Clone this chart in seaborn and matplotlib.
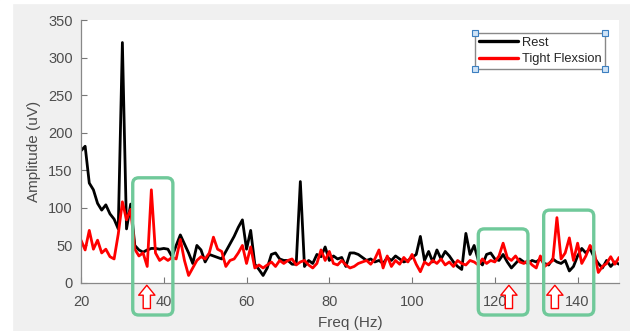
import numpy as np
import pandas as pd
import matplotlib
matplotlib.use("Agg")
import matplotlib.pyplot as plt
import seaborn as sns
from matplotlib.patches import FancyBboxPatch, Rectangle
from matplotlib.lines import Line2D

# frecvente 20..150 Hz, pas 1 Hz
freq = np.arange(20, 151)

rest = [176, 182, 133, 124, 106, 97, 104, 92, 85, 72,
        320, 72, 105, 50, 44, 41, 44, 46, 46, 45,
        46, 45, 35, 50, 64, 52, 40, 26, 50, 44,
        28, 38, 36, 34, 32, 42, 52, 62, 74, 84,
        45, 70, 25, 18, 10, 20, 38, 40, 32, 30,
        30, 25, 25, 135, 22, 30, 26, 38, 35, 48,
        30, 36, 32, 34, 22, 40, 40, 38, 34, 30,
        32, 28, 30, 26, 34, 30, 36, 32, 28, 30,
        34, 38, 62, 30, 42, 28, 44, 32, 42, 36,
        28, 22, 18, 66, 38, 50, 30, 24, 38, 40,
        32, 30, 38, 28, 20, 26, 32, 28, 26, 30,
        28, 32, 26, 24, 32, 28, 26, 30, 16, 22,
        36, 46, 40, 46, 34, 26, 20, 30, 22, 28, 25]

flexion = [57, 44, 70, 45, 57, 40, 45, 35, 32, 65,
           108, 84, 98, 45, 36, 40, 22, 124, 40, 30,
           34, 30, 34, 32, 58, 30, 10, 20, 30, 35,
           32, 40, 61, 45, 42, 22, 30, 32, 40, 50,
           26, 48, 20, 24, 20, 24, 28, 22, 30, 26,
           30, 32, 24, 28, 30, 24, 20, 26, 44, 30,
           42, 26, 24, 30, 24, 20, 22, 26, 28, 30,
           25, 32, 44, 20, 36, 22, 30, 25, 34, 28,
           38, 25, 15, 28, 24, 30, 26, 32, 24, 28,
           22, 30, 26, 24, 30, 28, 24, 32, 26, 30,
           28, 36, 53, 34, 30, 36, 28, 26, 30, 24,
           20, 36, 22, 26, 30, 87, 32, 40, 60, 30,
           53, 26, 36, 50, 42, 14, 22, 26, 35, 25, 34]

series_names = ["Rest", "Tight Flexsion"]
series_colors = ["#000000", "#ff0000"]

# zonele marcate cu verde (Hz, uV) si sagetile
box_f0 = [32.5, 116.0, 131.8]
box_f1 = [42.2, 128.0, 143.9]
box_top = [140, 72, 97]
arrow_f = [35.9, 123.4, 134.5]

df = pd.DataFrame({"freq": np.concatenate([freq, freq]),
                   "amp": rest + flexion,
                   "cond": [series_names[0]] * len(freq) + [series_names[1]] * len(freq)})

sns.set_style("ticks")
plt.rcParams["font.family"] = ["Liberation Sans", "DejaVu Sans"]

fig = plt.figure(figsize=(6.3, 3.31), dpi=100, facecolor="#f0f0f0")
fig.add_artist(Rectangle((0, 0), 12 / 630, 1, transform=fig.transFigure, color="white", zorder=-5))
fig.add_artist(Rectangle((0, 1 - 3 / 331), 1, 3 / 331, transform=fig.transFigure, color="white", zorder=-5))
ax = fig.add_axes([81 / 630, 48 / 331, 538 / 630, 263 / 331])
ax.set_facecolor("white")

sns.lineplot(data=df, x="freq", y="amp", hue="cond", palette=series_colors,
             linewidth=2.0, ax=ax, legend=False)

ax.set_xlim(20, 150)
ax.set_ylim(0, 350)
ax.set_xticks(range(20, 141, 20))
ax.set_yticks(range(0, 351, 50))
for s in ["top", "right"]:
    ax.spines[s].set_visible(False)
for s in ["left", "bottom"]:
    ax.spines[s].set_color("#888888")
    ax.spines[s].set_linewidth(0.9)
ax.tick_params(direction="in", length=4, width=0.8, color="#777777",
               labelcolor="#4d4d4d", labelsize=10.5)
ax.tick_params(axis="x", pad=9)
ax.tick_params(axis="y", pad=6)
ax.set_xlabel("Freq (Hz)", fontsize=11, color="#4d4d4d", labelpad=5)
ax.set_ylabel("Amplitude (uV)", fontsize=11, color="#4d4d4d", labelpad=5)

handles = [Line2D([], [], color=c, lw=2.4) for c in series_colors]
leg = ax.legend(handles, series_names, loc="upper right", bbox_to_anchor=(0.974, 0.951),
                borderaxespad=0, fancybox=False, edgecolor="#888888", framealpha=1,
                fontsize=9.3, handlelength=3.0, handletextpad=0.3, borderpad=0.3,
                labelspacing=0.35)
leg.get_frame().set_linewidth(1.0)

# sageti rosii goale sub axa
for f in arrow_f:
    ax.annotate("", xy=(f, -3), xytext=(f, -34), annotation_clip=False,
                arrowprops=dict(arrowstyle="simple,head_length=0.55,head_width=0.9,tail_width=0.4",
                                fc="white", ec="red", lw=1.0, mutation_scale=13,
                                shrinkA=0, shrinkB=0))

fig.canvas.draw()

# casete verzi rotunjite, in pixeli
for f0, f1, top in zip(box_f0, box_f1, box_top):
    x0, y1 = ax.transData.transform((f0, top))
    x1, _ = ax.transData.transform((f1, 0))
    y0 = 331 - 315
    box = FancyBboxPatch((x0, y0), x1 - x0, y1 - y0,
                         boxstyle="round,pad=0,rounding_size=6",
                         transform=None, fill=False, ec="#70c99a", lw=2.4, zorder=5)
    fig.add_artist(box)

# manerele albastre din coltii legendei
bb = leg.get_window_extent()
for px, py in [(bb.x0, bb.y0), (bb.x0, bb.y1), (bb.x1, bb.y0), (bb.x1, bb.y1)]:
    fx, fy = fig.transFigure.inverted().transform((px, py))
    fig.add_artist(Line2D([fx], [fy], marker="s", ms=4.5, mfc="#cfe3f7", mec="#3c7fc0",
                          mew=0.8, transform=fig.transFigure, zorder=10))

fig.savefig("out.png", dpi=100, facecolor=fig.get_facecolor())
